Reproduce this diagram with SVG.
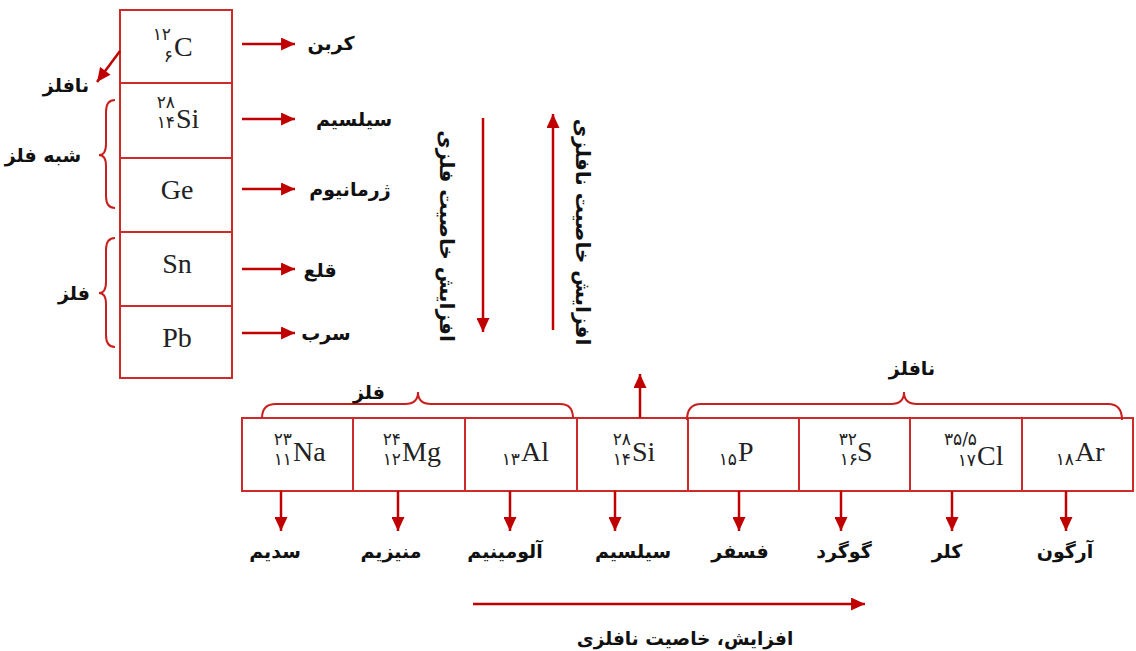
<svg xmlns="http://www.w3.org/2000/svg" width="1136" height="651" viewBox="0 0 1136 651">
<style>
.cell{fill:#fff;stroke:#cf2a2a;stroke-width:2}
.sym{font-family:"Liberation Serif","DejaVu Serif",serif;font-size:28px;fill:#222}
.num{font-family:"DejaVu Sans",sans-serif;font-size:17px;fill:#222;text-anchor:end}
.lbl{font-family:"DejaVu Sans",sans-serif;font-size:19px;font-weight:bold;fill:#111;text-anchor:middle}
.vlbl{font-family:"DejaVu Sans",sans-serif;font-size:20px;font-weight:bold;fill:#111;text-anchor:middle}
.arr{stroke:#c00000;stroke-width:2.5;fill:none}
.brace{stroke:#c8201e;stroke-width:2;fill:none}
</style>
<defs>
<marker id="ah" viewBox="0 0 15 14" refX="15" refY="7" markerWidth="15" markerHeight="13" markerUnits="userSpaceOnUse" orient="auto">
<path d="M0,0 L15,7 L0,14 z" fill="#c00000"/>
</marker>
</defs>
<rect width="1136" height="651" fill="#fff"/>

<!-- Left column -->
<g id="col-C"><rect class="cell" x="120" y="10" width="112" height="73"/>
<text class="num" x="171" y="40">۱۲</text><text class="num" x="173" y="62">۶</text>
<text class="sym" x="174" y="56">C</text></g>
<g id="col-Si"><rect class="cell" x="120" y="83" width="112" height="75"/>
<text class="num" x="175" y="108">۲۸</text><text class="num" x="175" y="128">۱۴</text>
<text class="sym" x="176" y="128">Si</text></g>
<g id="col-Ge"><rect class="cell" x="120" y="158" width="112" height="74"/>
<text class="sym" x="177" y="199" text-anchor="middle">Ge</text></g>
<g id="col-Sn"><rect class="cell" x="120" y="232" width="112" height="74"/>
<text class="sym" x="177" y="273" text-anchor="middle">Sn</text></g>
<g id="col-Pb"><rect class="cell" x="120" y="306" width="112" height="72"/>
<text class="sym" x="177" y="347" text-anchor="middle">Pb</text></g>

<g id="left-labels">
<text class="lbl" x="331" y="50">کربن</text>
<text class="lbl" x="354" y="126">سیلسیم</text>
<text class="lbl" x="350" y="196">ژرمانیوم</text>
<text class="lbl" x="320" y="277">قلع</text>
<text class="lbl" x="326" y="340">سرب</text>
<text class="lbl" x="66" y="92">نافلز</text>
<text class="lbl" x="43" y="162">شبه فلز</text>
<text class="lbl" x="74" y="300">فلز</text>
</g>

<!-- Bottom row -->
<g id="row-Na"><rect class="cell" x="242" y="418" width="111" height="73"/>
<text class="num" x="292" y="445">۲۳</text><text class="num" x="292" y="465">۱۱</text>
<text class="sym" x="293" y="461">Na</text></g>
<g id="row-Mg"><rect class="cell" x="353" y="418" width="112" height="73"/>
<text class="num" x="401" y="445">۲۴</text><text class="num" x="401" y="465">۱۲</text>
<text class="sym" x="402" y="461">Mg</text></g>
<g id="row-Al"><rect class="cell" x="465" y="418" width="112" height="73"/>
<text class="num" x="520" y="465">۱۳</text>
<text class="sym" x="521" y="461">Al</text></g>
<g id="row-Si"><rect class="cell" x="577" y="418" width="111" height="73"/>
<text class="num" x="631" y="445">۲۸</text><text class="num" x="631" y="465">۱۴</text>
<text class="sym" x="632" y="461">Si</text></g>
<g id="row-P"><rect class="cell" x="688" y="418" width="111" height="73"/>
<text class="num" x="737" y="465">۱۵</text>
<text class="sym" x="738" y="461">P</text></g>
<g id="row-S"><rect class="cell" x="799" y="418" width="111" height="73"/>
<text class="num" x="857" y="445">۳۲</text><text class="num" x="858" y="465">۱۶</text>
<text class="sym" x="857" y="461">S</text></g>
<g id="row-Cl"><rect class="cell" x="910" y="418" width="112" height="73"/>
<text class="num" x="977" y="445">۳۵/۵</text><text class="num" x="976" y="466">۱۷</text>
<text class="sym" x="977" y="465">Cl</text></g>
<g id="row-Ar"><rect class="cell" x="1022" y="418" width="111" height="73"/>
<text class="num" x="1074" y="465">۱۸</text>
<text class="sym" x="1075" y="461">Ar</text></g>

<g id="braces">
<path class="brace" d="M115,100 Q106,100 106,112 L106,144 Q106,155 99,155 Q106,155 106,166 L106,196 Q106,208 115,208"/>
<path class="brace" d="M115,238 Q106,238 106,250 L106,282 Q106,293 99,293 Q106,293 106,304 L106,335 Q106,347 115,347"/>
<path class="brace" d="M262,418 Q262,404 276,404 L405,404 Q418,404 418,392 Q418,404 431,404 L560,404 Q573,404 573,418"/>
<path class="brace" d="M687,420 Q687,404 701,404 L891,404 Q904,404 904,392 Q904,404 917,404 L1108,404 Q1122,404 1122,420"/>
</g>

<g id="bottom-labels">
<text class="lbl" x="369" y="399">فلز</text>
<text class="lbl" x="912" y="375">نافلز</text>
<text class="lbl" x="275" y="558">سدیم</text>
<text class="lbl" x="391" y="558">منیزیم</text>
<text class="lbl" x="505" y="558">آلومینیم</text>
<text class="lbl" x="633" y="558">سیلسیم</text>
<text class="lbl" x="740" y="558">فسفر</text>
<text class="lbl" x="844" y="558">گوگرد</text>
<text class="lbl" x="947" y="558">کلر</text>
<text class="lbl" x="1065" y="558">آرگون</text>
<text class="lbl" x="685" y="645" style="font-size:18.5px">افزایش، خاصیت نافلزی</text>
<text class="vlbl" transform="translate(447,236) rotate(90)" dy="7">افزایش خاصیت فلزی</text>
<text class="vlbl" transform="translate(583,232) rotate(90)" dy="7">افزایش خاصیت نافلزی</text>
</g>

<g id="connectors">
<line class="arr" x1="242" y1="44" x2="295" y2="44" marker-end="url(#ah)"/>
<line class="arr" x1="242" y1="119" x2="295" y2="119" marker-end="url(#ah)"/>
<line class="arr" x1="242" y1="189" x2="295" y2="189" marker-end="url(#ah)"/>
<line class="arr" x1="242" y1="269" x2="295" y2="269" marker-end="url(#ah)"/>
<line class="arr" x1="242" y1="333" x2="295" y2="333" marker-end="url(#ah)"/>
<line class="arr" x1="120" y1="51" x2="97" y2="82" marker-end="url(#ah)"/>
<line class="arr" x1="483" y1="118" x2="483" y2="332" marker-end="url(#ah)"/>
<line class="arr" x1="553" y1="330" x2="553" y2="114" marker-end="url(#ah)"/>
<line class="arr" x1="640" y1="418" x2="640" y2="374" marker-end="url(#ah)"/>
<line class="arr" x1="281" y1="491" x2="281" y2="531" marker-end="url(#ah)"/>
<line class="arr" x1="398" y1="491" x2="398" y2="531" marker-end="url(#ah)"/>
<line class="arr" x1="510" y1="491" x2="510" y2="531" marker-end="url(#ah)"/>
<line class="arr" x1="615" y1="491" x2="615" y2="531" marker-end="url(#ah)"/>
<line class="arr" x1="739" y1="491" x2="739" y2="531" marker-end="url(#ah)"/>
<line class="arr" x1="841" y1="491" x2="841" y2="531" marker-end="url(#ah)"/>
<line class="arr" x1="952" y1="491" x2="952" y2="531" marker-end="url(#ah)"/>
<line class="arr" x1="1066" y1="491" x2="1066" y2="531" marker-end="url(#ah)"/>
<line class="arr" x1="473" y1="604" x2="865" y2="604" marker-end="url(#ah)"/>
</g>
</svg>
